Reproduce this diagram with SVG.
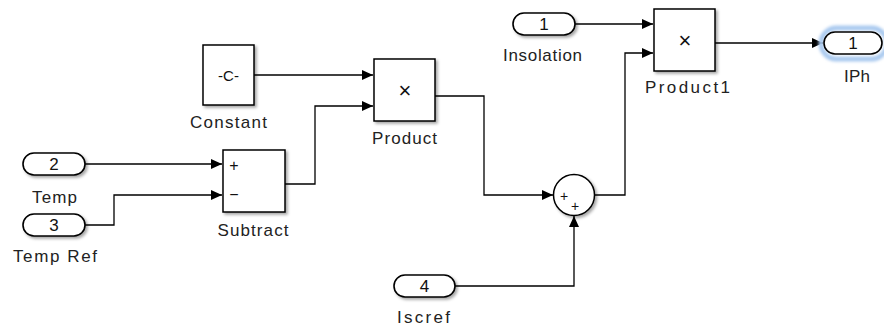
<svg xmlns="http://www.w3.org/2000/svg" width="884" height="329" viewBox="0 0 884 329">
<style>
.blk{fill:#fff;stroke:#000;stroke-width:1.5}
.pill{fill:#fff;stroke:#000;stroke-width:1.6}
.lbl{font-family:"Liberation Sans",Arial,sans-serif;font-size:17px;fill:#222;text-anchor:middle}
.num{font-family:"Liberation Sans",Arial,sans-serif;font-size:17px;fill:#111;text-anchor:middle}
.sym{font-family:"Liberation Sans",Arial,sans-serif;fill:#111;text-anchor:middle}
.wire{fill:none;stroke:#000;stroke-width:1.3}
</style>
<defs>
<marker id="arr" markerUnits="userSpaceOnUse" markerWidth="12" markerHeight="10" refX="11" refY="5" orient="auto">
<path d="M0,0 L11,5 L0,10 Z" fill="#000"/>
</marker>
<filter id="sh" x="-20%" y="-20%" width="150%" height="150%">
<feDropShadow dx="2" dy="2" stdDeviation="1.5" flood-color="#000" flood-opacity="0.35"/>
</filter>
<filter id="glow" x="-30%" y="-50%" width="160%" height="200%">
<feGaussianBlur stdDeviation="1.5"/>
</filter>
</defs>
<rect width="884" height="329" fill="#fff"/>

<g id="connectors">
<path class="wire" d="M85,164 H222" marker-end="url(#arr)"/>
<path class="wire" d="M85,225 H114 V195 H222" marker-end="url(#arr)"/>
<path class="wire" d="M254,75 H373" marker-end="url(#arr)"/>
<path class="wire" d="M285,184 H315 V106 H373" marker-end="url(#arr)"/>
<path class="wire" d="M435,96 H484 V195 H553" marker-end="url(#arr)"/>
<path class="wire" d="M455,286 H574 V216" marker-end="url(#arr)"/>
<path class="wire" d="M595,195 H625 V53 H653" marker-end="url(#arr)"/>
<path class="wire" d="M575,24 H653" marker-end="url(#arr)"/>
<path class="wire" d="M715,43 H823" marker-end="url(#arr)"/>
</g>

<g id="temp">
<rect class="pill" x="23" y="153" width="62" height="22" rx="11" filter="url(#sh)"/>
<text class="num" x="54" y="170">2</text>
<text class="lbl" x="54.5" y="203" textLength="45" lengthAdjust="spacing">Temp</text>
</g>
<g id="tempref">
<rect class="pill" x="23" y="214" width="62" height="22" rx="11" filter="url(#sh)"/>
<text class="num" x="54" y="231">3</text>
<text class="lbl" x="55" y="262" textLength="84" lengthAdjust="spacing">Temp Ref</text>
</g>
<g id="subtract">
<rect class="blk" x="223" y="150" width="62" height="62" filter="url(#sh)"/>
<text class="sym" x="234" y="171" font-size="16">+</text>
<text class="sym" x="234" y="200" font-size="16">−</text>
<text class="lbl" x="253" y="236" textLength="71" lengthAdjust="spacing">Subtract</text>
</g>
<g id="constant">
<rect class="blk" x="203" y="45" width="51" height="60" filter="url(#sh)"/>
<text class="sym" x="228.5" y="80.5" font-size="15">-C-</text>
<text class="lbl" x="228.5" y="128" textLength="77" lengthAdjust="spacing">Constant</text>
</g>
<g id="product">
<rect class="blk" x="374" y="59" width="61" height="62" filter="url(#sh)"/>
<text class="sym" x="405" y="98" font-size="22">×</text>
<text class="lbl" x="404.5" y="144" textLength="65" lengthAdjust="spacing">Product</text>
</g>
<g id="sum">
<circle cx="574" cy="195" r="20.5" fill="#fff" stroke="#000" stroke-width="1.5" filter="url(#sh)"/>
<text class="sym" x="564" y="201" font-size="14">+</text>
<text class="sym" x="575" y="211" font-size="14">+</text>
</g>
<g id="iscref">
<rect class="pill" x="394" y="275" width="61" height="22" rx="11" filter="url(#sh)"/>
<text class="num" x="424.5" y="292">4</text>
<text class="lbl" x="423.5" y="323" textLength="53" lengthAdjust="spacing">Iscref</text>
</g>
<g id="insolation">
<rect class="pill" x="513" y="13" width="62" height="22" rx="11" filter="url(#sh)"/>
<text class="num" x="544" y="30">1</text>
<text class="lbl" x="542.5" y="61" textLength="79" lengthAdjust="spacing">Insolation</text>
</g>
<g id="product1">
<rect class="blk" x="654" y="9" width="61" height="62" filter="url(#sh)"/>
<text class="sym" x="685" y="48" font-size="22">×</text>
<text class="lbl" x="687.5" y="93" textLength="85" lengthAdjust="spacing">Product1</text>
</g>
<g id="iph">
<rect x="821" y="28" width="66" height="31" rx="15.5" fill="none" stroke="#a9c9ef" stroke-width="5" filter="url(#glow)"/>
<rect class="pill" x="824" y="32" width="58" height="22" rx="11"/>
<text class="num" x="853" y="49">1</text>
<text class="lbl" x="857" y="82" textLength="26" lengthAdjust="spacing">IPh</text>
</g>
</svg>
